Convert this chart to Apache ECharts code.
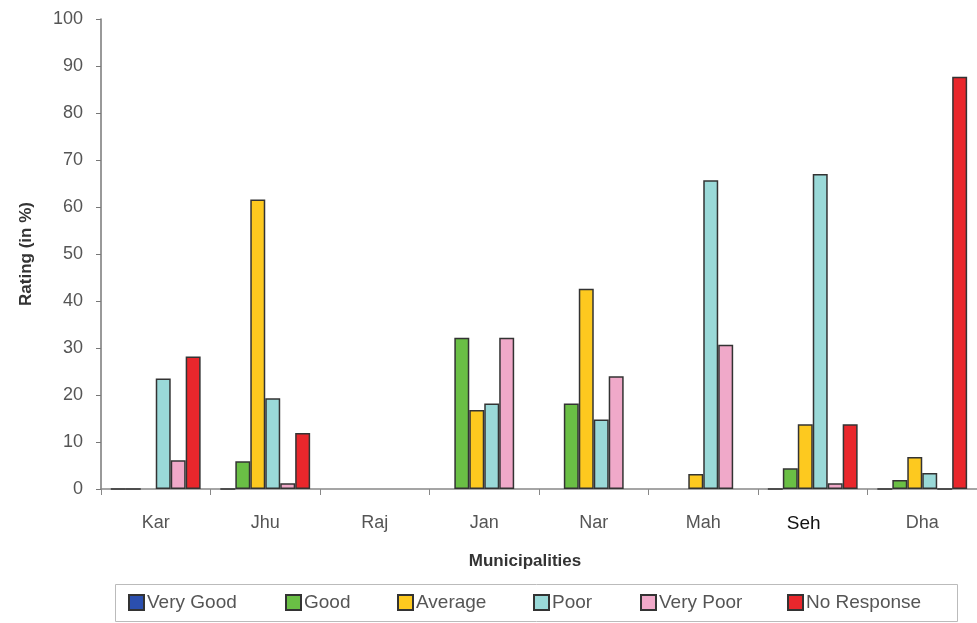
<!DOCTYPE html>
<html>
<head>
<meta charset="utf-8">
<script src="https://cdn.jsdelivr.net/npm/echarts@6/dist/echarts.min.js"></script>
<style>
  html, body { margin: 0; padding: 0; background: #fff; }
  #chart { width: 977px; height: 623px; }
</style>
</head>
<body>
<div id="chart"></div>
<script>
const categories = ["Kar", "Jhu", "Raj", "Jan", "Nar", "Mah", "Seh", "Dha"];
const seriesNames = ["Very Good", "Good", "Average", "Poor", "Very Poor", "No Response"];
const veryGood = [0, 0, null, null, null, null, 0, 0];
const good = [0, 5.9, null, 32.2, 18.2, null, 4.4, 1.9];
const average = [null, 61.6, null, 16.8, 42.6, 3.2, 13.8, 6.8];
const poor = [23.5, 19.3, null, 18.2, 14.8, 65.7, 67, 3.4];
const veryPoor = [6.1, 1.2, null, 32.2, 24, 30.7, 1.2, 0];
const noResponse = [28.2, 11.9, null, null, null, null, 13.8, 87.7];
const yTicks = [0, 10, 20, 30, 40, 50, 60, 70, 80, 90, 100];

const colors = ["#2b4fae", "#6abf45", "#fdc91f", "#9ad9d8", "#f0a9c9", "#e9272c"];
const values = [veryGood, good, average, poor, veryPoor, noResponse];
const legendLeft = [128, 285, 397, 533, 640, 787];

const chart = echarts.init(document.getElementById("chart"));

chart.setOption({
  animation: false,
  textStyle: { fontFamily: "Liberation Sans, Arial, sans-serif" },
  grid: { left: 101, top: 19, width: 884, bottom: 134, containLabel: false },
  xAxis: {
    type: "category",
    data: categories,
    name: "Municipalities",
    nameLocation: "middle",
    nameGap: 64,
    nameTextStyle: { fontSize: 17, fontWeight: "bold", color: "#333", padding: [0, 28, 0, 0] },
    axisLine: { lineStyle: { color: "#888", width: 1.5 } },
    axisTick: { show: true, length: 6, lineStyle: { color: "#888" } },
    axisLabel: {
      margin: 25,
      fontSize: 18,
      color: "#555",
      formatter: (v) => (v === "Seh" ? "{s|" + v + "}" : v),
      rich: { s: { fontSize: 19, color: "#111", padding: [0, 18, 6, 0] } }
    }
  },
  yAxis: {
    type: "value",
    min: 0,
    max: 100,
    interval: 10,
    name: "Rating (in %)",
    nameLocation: "middle",
    nameGap: 66,
    nameTextStyle: { fontSize: 17, fontWeight: "bold", color: "#333" },
    splitLine: { show: false },
    axisLine: { show: true, lineStyle: { color: "#777", width: 1.5 } },
    axisTick: { show: true, length: 5, lineStyle: { color: "#777" } },
    axisLabel: {
      margin: 18,
      fontSize: 18,
      color: "#555",
      formatter: (v) => (yTicks.includes(v) ? String(v) : "")
    }
  },
  legend: seriesNames.map((name, i) => ({
    data: [name],
    left: legendLeft[i],
    top: 593,
    padding: 0,
    itemWidth: 15,
    itemHeight: 15,
    itemGap: 4,
    icon: "rect",
    textStyle: { fontSize: 19, color: "#555", padding: [0, 0, 0, -2] },
    selectedMode: false
  })),
  graphic: [{
    type: "rect",
    left: 113,
    top: 582,
    shape: { width: 842, height: 37 },
    style: { fill: "none", stroke: "#bbb", lineWidth: 1 },
    z: -1
  }],
  series: seriesNames.map((name, i) => ({
    name: name,
    type: "bar",
    data: values[i],
    barGap: "0%",
    barCategoryGap: "18%",
    itemStyle: { color: colors[i], borderColor: "#333", borderWidth: 1.5 }
  }))
});
</script>
</body>
</html>
